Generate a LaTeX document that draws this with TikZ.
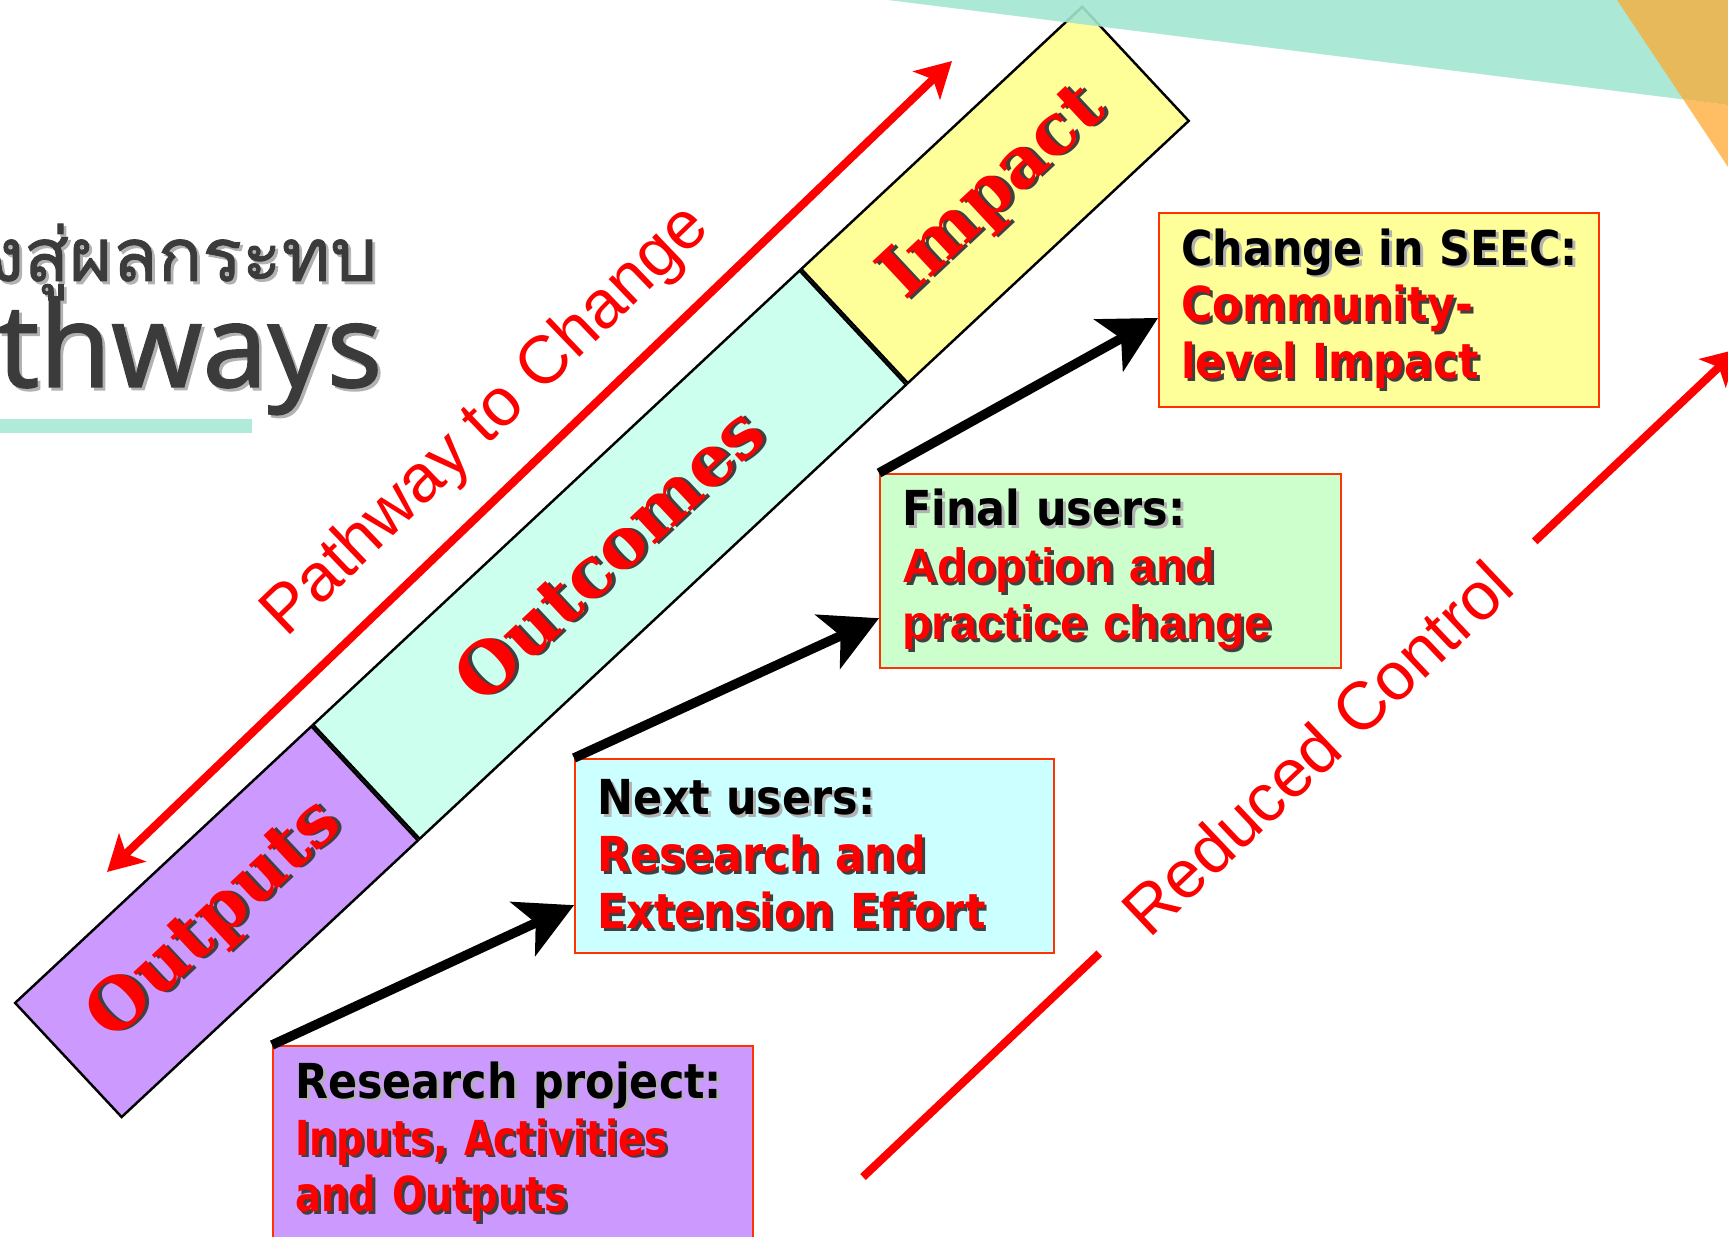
\documentclass[tikz,border=0pt]{standalone}
\usepackage{fontspec}
\setmainfont{Liberation Sans}
\newfontfamily\boxfont[FakeStretch=0.89]{DejaVu Sans}
\newfontfamily\narrowfont[FakeStretch=0.8]{DejaVu Sans}
\newfontfamily\bandfont{DejaVu Serif}
\newfontfamily\titlefont[FakeBold=1.2]{Noto Sans}
\newfontfamily\thaifont[Script=Thai,FakeBold=1.2]{Loma}
\usetikzlibrary{positioning,calc,arrows.meta}

\definecolor{outputfill}{HTML}{CC99FF}
\definecolor{outcomefill}{HTML}{CCFFEE}
\definecolor{impactfill}{HTML}{FFFF99}
\definecolor{nextfill}{HTML}{CCFFFF}
\definecolor{finalfill}{HTML}{CCFFCC}
\definecolor{boxline}{HTML}{FF3300}
\definecolor{textred}{HTML}{FF0000}
\definecolor{titlegray}{HTML}{3B3B3B}
\definecolor{mintbar}{HTML}{B0EAD8}
\definecolor{tealband}{RGB}{162,229,208}
\definecolor{orangelow}{HTML}{FFBE63}
\definecolor{orangehigh}{HTML}{E8B95A}
\definecolor{darkshadow}{gray}{0.25}
\definecolor{lightshadow}{gray}{0.7}

% text with a small drop shadow
\newcommand{\shd}[2][darkshadow]{\mbox{\rlap{\kern0.8pt\raisebox{-0.8pt}{\textcolor{#1}{#2}}}#2}}

\begin{document}
\begin{tikzpicture}[x=0.01cm, y=-0.01cm,
    bandseg/.style={draw=black, line width=0.7pt, rotate=43.03, minimum height=15.6mm,
      inner sep=0pt, text=textred, font=\bandfont\bfseries\fontsize{20}{24}\selectfont},
    infobox/.style={draw=boxline, line width=0.6pt, anchor=north west, minimum height=19.4mm,
      inner xsep=6.3pt, inner ysep=0pt, align=left,
      font=\boxfont\bfseries\fontsize{13.7}{16.2}\selectfont},
    stepline/.style={line width=2.7pt, -{Stealth[length=16pt, width=16.8pt, inset=4pt]}},
    redline/.style={draw=textred, line width=2.3pt},
    redtip/.tip={Stealth[length=10pt, width=11pt, inset=2.5pt]},
    slabel/.style={text=textred, font=\fontsize{19.2}{23}\selectfont}
  ]
  \useasboundingbox (0,0) rectangle (1728,1237);
  \clip (0,0) rectangle (1728,1237);

  % title (cut at the left edge)
  \node[anchor=base east, inner sep=0pt, text=titlegray,
    font=\thaifont\fontsize{21}{25}\selectfont] (thtitle) at (378,281) {\shd[lightshadow]{งสู่ผลกระทบ}};
  \node[anchor=base east, inner sep=0pt, text=titlegray,
    font=\titlefont\fontsize{33}{40}\selectfont] (entitle) at (383,387) {\shd[lightshadow]{thways}};
  \fill[mintbar] (0,419) rectangle (252,433);

  % the band
  \node[bandseg, fill=outputfill, minimum width=40.5mm] (outp) at (216.5,921.7) {\shd{Outputs}};
  \node[bandseg, fill=outcomefill, minimum width=66.5mm, anchor=west] (outc) at (outp.east) {\shd{Outcomes}};
  \node[bandseg, fill=impactfill, minimum width=38.4mm, anchor=west] (impc) at (outc.east) {\shd{Impact}};

  % corner shapes
  \fill[tealband, opacity=0.9] (888,0) -- (1728,0) -- (1728,105) -- cycle;
  \fill[orangelow] (1683,99) -- (1728,105) -- (1728,167) -- cycle;
  \fill[orangehigh] (1617,0) -- (1728,0) -- (1728,105) -- (1683,99) -- cycle;

  % pathway arrow
  \coordinate (pwlow) at (107,872);
  \coordinate (pwhigh) at (952,61);
  \draw[redline, redtip-redtip] (pwlow) -- node[slabel, sloped, above=4pt] {Pathway to Change} (pwhigh);

  % boxes
  \node[infobox, fill=outputfill, text width=43.56mm] (proj) at (272,1045)
    {\shd[lightshadow]{Research project:}\\
     \textcolor{textred}{\narrowfont\shd{Inputs, Activities}}\\
     \textcolor{textred}{\narrowfont\shd{and Outputs}}};
  \node[infobox, fill=nextfill, text width=43.46mm] (next) at (574,758)
    {\shd[lightshadow]{Next users:}\\
     \textcolor{textred}{\shd{Research and}}\\
     \textcolor{textred}{\shd{Extension Effort}}};
  \node[infobox, fill=finalfill, text width=41.66mm] (final) at (879,473)
    {\shd[lightshadow]{Final users:}\\
     \textcolor{textred}{\rmfamily\shd{Adoption and}}\\
     \textcolor{textred}{\rmfamily\shd{practice change}}};
  \node[infobox, fill=impactfill, text width=39.56mm] (seec) at (1158,212)
    {\shd[lightshadow]{Change in SEEC:}\\
     \textcolor{textred}{\shd{Community-}}\\
     \textcolor{textred}{\shd{level Impact}}};

  \draw[stepline] (proj.north west) -- ($(next.north west)!0.75!(next.south west)$);
  \draw[stepline] (next.north west) -- ($(final.north west)!0.74!(final.south west)$);
  \draw[stepline] (final.north west) -- ($(seec.north west)!0.54!(seec.south west)$);

  % reduced control arrow
  \coordinate (rclow) at (863,1177);
  \coordinate (rchigh) at (1738,349);
  \node[slabel, rotate=43.4, inner xsep=13pt] (rctext) at (1317,747.4) {Reduced Control};
  \draw[redline] (rclow) -- (rctext);
  \draw[redline, -redtip] (rctext) -- (rchigh);
\end{tikzpicture}
\end{document}
